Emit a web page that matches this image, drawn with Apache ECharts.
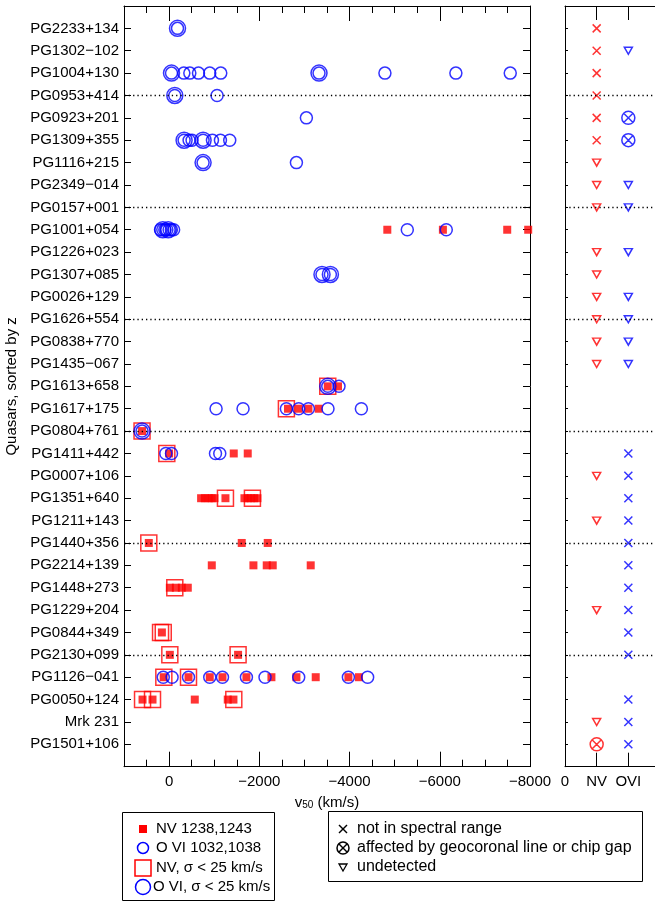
<!DOCTYPE html>
<html>
<head>
<meta charset="utf-8">
<title>v50 of NV and O VI absorbers</title>
<script src="https://cdn.jsdelivr.net/npm/echarts@6/dist/echarts.min.js"></script>
<style>
  html, body { margin: 0; padding: 0; background: #fff; }
  #chart { width: 655px; height: 903px; }
</style>
</head>
<body>
<div id="chart"></div>
<script>
// Quasars, top to bottom, sorted by redshift
const quasars = [
  'PG2233+134', 'PG1302−102', 'PG1004+130', 'PG0953+414', 'PG0923+201',
  'PG1309+355', 'PG1116+215', 'PG2349−014', 'PG0157+001', 'PG1001+054',
  'PG1226+023', 'PG1307+085', 'PG0026+129', 'PG1626+554', 'PG0838+770',
  'PG1435−067', 'PG1613+658', 'PG1617+175', 'PG0804+761', 'PG1411+442',
  'PG0007+106', 'PG1351+640', 'PG1211+143', 'PG1440+356', 'PG2214+139',
  'PG1448+273', 'PG1229+204', 'PG0844+349', 'PG2130+099', 'PG1126−041',
  'PG0050+124', 'Mrk 231', 'PG1501+106'
];

// Rows after which a dotted separator is drawn
const groupBreaks = ['PG0953+414', 'PG0157+001', 'PG1626+554', 'PG0804+761', 'PG1440+356', 'PG2130+099'];

// v50 (km/s) of NV 1238,1243 components
const nvV50 = [
  ['PG1001+054', [-4837, -6069, -7495, -7960]],
  ['PG1613+658', [-3517, -3744]],
  ['PG1617+175', [-2636, -2873, -3088, -3316]],
  ['PG0804+761', [600]],
  ['PG1411+442', [0, -1433, -1743]],
  ['PG1351+640', [-709, -791, -879, -946, -1006, -1249, -1670, -1743, -1810, -1887, -1958]],
  ['PG1440+356', [450, -1610, -2186]],
  ['PG2214+139', [-946, -1869, -2164, -2297, -3139]],
  ['PG1448+273', [-16, -149, -281, -414]],
  ['PG0844+349', [160]],
  ['PG2130+099', [-16, -1529]],
  ['PG1126−041', [120, -430, -901, -1183, -1714, -2268, -2822, -3250, -3974, -4209]],
  ['PG0050+124', [589, 368, -569, -1300, -1426]]
];

// NV components with sigma < 25 km/s
const nvNarrow = [
  ['PG1613+658', [-3517]],
  ['PG1617+175', [-2600]],
  ['PG0804+761', [600]],
  ['PG1411+442', [51]],
  ['PG1351+640', [-1249, -1847]],
  ['PG1440+356', [450]],
  ['PG1448+273', [-126]],
  ['PG0844+349', [190, 130]],
  ['PG2130+099', [-16, -1529]],
  ['PG1126−041', [117, -430]],
  ['PG0050+124', [589, 368, -1434]]
];

// v50 (km/s) of O VI 1032,1038 components
const oviV50 = [
  ['PG2233+134', [-186]],
  ['PG1004+130', [-53, -326, -459, -651, -901, -1145, -3323, -4784, -6357, -7562]],
  ['PG0953+414', [-126, -1063]],
  ['PG0923+201', [-3043]],
  ['PG1309+355', [-332, -443, -509, -753, -961, -1138, -1344]],
  ['PG1116+215', [-753, -2822]],
  ['PG1001+054', [190, 140, 95, 50, 0, -50, -100, -5280, -6144]],
  ['PG1307+085', [-3389, -3575]],
  ['PG1613+658', [-3517, -3766]],
  ['PG1617+175', [-1041, -1639, -2600, -2873, -3088, -3522, -4262]],
  ['PG0804+761', [600]],
  ['PG1411+442', [73, -53, -1028, -1123]],
  ['PG1126−041', [130, -66, -430, -901, -1183, -1714, -2126, -2873, -3974, -4401]]
];

// O VI components with sigma < 25 km/s
const oviNarrow = [
  ['PG2233+134', [-186]],
  ['PG1004+130', [-53, -3323]],
  ['PG0953+414', [-126]],
  ['PG1309+355', [-332, -753]],
  ['PG1116+215', [-753]],
  ['PG1001+054', [140, 20]],
  ['PG1307+085', [-3389, -3575]],
  ['PG1613+658', [-3517]],
  ['PG0804+761', [600]]
];

// Non-detections: x = not in spectral range, g = geocoronal line / chip gap, u = undetected
const nvStatus = [
  ['PG2233+134', 'x'], ['PG1302−102', 'x'], ['PG1004+130', 'x'], ['PG0953+414', 'x'],
  ['PG0923+201', 'x'], ['PG1309+355', 'x'], ['PG1116+215', 'u'], ['PG2349−014', 'u'],
  ['PG0157+001', 'u'], ['PG1226+023', 'u'], ['PG1307+085', 'u'], ['PG0026+129', 'u'],
  ['PG1626+554', 'u'], ['PG0838+770', 'u'], ['PG1435−067', 'u'], ['PG0007+106', 'u'],
  ['PG1211+143', 'u'], ['PG1229+204', 'u'], ['Mrk 231', 'u'], ['PG1501+106', 'g']
];
const oviStatus = [
  ['PG1302−102', 'u'], ['PG0923+201', 'g'], ['PG1309+355', 'g'], ['PG2349−014', 'u'],
  ['PG0157+001', 'u'], ['PG1226+023', 'u'], ['PG0026+129', 'u'], ['PG1626+554', 'u'],
  ['PG0838+770', 'u'], ['PG1435−067', 'u'], ['PG1411+442', 'x'], ['PG0007+106', 'x'],
  ['PG1351+640', 'x'], ['PG1211+143', 'x'], ['PG1440+356', 'x'], ['PG2214+139', 'x'],
  ['PG1448+273', 'x'], ['PG1229+204', 'x'], ['PG0844+349', 'x'], ['PG2130+099', 'x'],
  ['PG0050+124', 'x'], ['Mrk 231', 'x'], ['PG1501+106', 'x']
];

const statusColumns = ['0', 'NV', 'OVI', ''];

const FONT = '"Liberation Sans", Arial, Helvetica, sans-serif';
const RED = '#ff0000';
const BLUE = '#0000ff';
const HOLLOW = 'rgba(0,0,0,0)';

const rowOf = name => quasars.indexOf(name) + 1;
const toPoints = list => list.flatMap(([name, vs]) => vs.map(v => [v, rowOf(name)]));
const fmtVel = v => (v === 1000 ? '' : v < 0 ? '−' + Math.abs(v) : String(v));

const separators = {
  silent: true,
  symbol: ['none', 'none'],
  label: { show: false },
  lineStyle: { color: '#000', type: [1.3, 3], width: 1.3 },
  data: groupBreaks.map(n => ({ yAxis: rowOf(n) }))
};

const blackLine = { color: '#000', width: 1 };

const velAxis = {
  type: 'value', min: -8000, max: 1000, inverse: true, gridIndex: 0,
  splitLine: { show: false },
  axisLine: { onZero: false, lineStyle: blackLine }
};
const rowAxis = {
  type: 'value', min: 0, max: quasars.length + 1, inverse: true, interval: 1,
  splitLine: { show: false },
  axisLine: { onZero: false, lineStyle: blackLine }
};
const colAxis = {
  type: 'value', min: 0, max: 3, interval: 1, gridIndex: 1,
  splitLine: { show: false },
  axisLine: { onZero: false, lineStyle: blackLine },
  axisTick: { inside: true, length: 14, lineStyle: blackLine }
};

const statusSymbol = {
  x: { symbol: 'path://M0,0L10,10M10,0L0,10', size: 8 },
  g: { symbol: 'path://M0,5A5,5,0,1,1,10,5A5,5,0,1,1,0,5ZM1.6,1.6L8.4,8.4M8.4,1.6L1.6,8.4', size: 13 },
  u: { symbol: 'path://M0,0L10,0L5,8.7Z', size: [8, 7] }
};

function statusSeries(code, name) {
  const items = [];
  nvStatus.filter(s => s[1] === code).forEach(([q]) =>
    items.push({ value: [1, rowOf(q)], itemStyle: { borderColor: RED } }));
  oviStatus.filter(s => s[1] === code).forEach(([q]) =>
    items.push({ value: [2, rowOf(q)], itemStyle: { borderColor: BLUE } }));
  return {
    type: 'scatter', name, xAxisIndex: 4, yAxisIndex: 2, silent: true,
    symbol: statusSymbol[code].symbol, symbolSize: statusSymbol[code].size,
    itemStyle: { color: HOLLOW, borderWidth: 1.5 },
    data: items
  };
}

const chart = echarts.init(document.getElementById('chart'), null, { renderer: 'canvas' });

const option = {
  animation: false,
  textStyle: { fontFamily: FONT, color: '#000' },
  grid: [
    { left: 124, top: 6, width: 406, height: 760.7, outerBoundsMode: 'none' },
    { left: 565, top: 6, width: 95, height: 760.7, outerBoundsMode: 'none' }
  ],
  xAxis: [
    Object.assign({}, velAxis, {
      position: 'bottom', interval: 500,
      axisTick: { inside: true, length: 7, lineStyle: blackLine },
      axisLabel: { show: false }
    }),
    Object.assign({}, velAxis, {
      position: 'bottom', interval: 2000,
      axisLine: { show: false, onZero: false },
      axisTick: { inside: true, length: 15, lineStyle: blackLine },
      axisLabel: { fontSize: 15, color: '#000', margin: 8, formatter: fmtVel },
      name: 'v{sub|50} (km/s)', nameLocation: 'middle', nameGap: 16,
      nameTextStyle: {
        fontSize: 15, color: '#000', lineHeight: 16,
        rich: { sub: { fontSize: 10, color: '#000', verticalAlign: 'bottom', lineHeight: 6 } }
      }
    }),
    Object.assign({}, velAxis, {
      position: 'top', interval: 500,
      axisTick: { inside: true, length: 7, lineStyle: blackLine },
      axisLabel: { show: false }
    }),
    Object.assign({}, velAxis, {
      position: 'top', interval: 2000,
      axisLine: { show: false, onZero: false },
      axisTick: { inside: true, length: 15, lineStyle: blackLine },
      axisLabel: { show: false }
    }),
    Object.assign({}, colAxis, {
      position: 'bottom',
      axisLabel: { fontSize: 15, color: '#000', margin: 8, formatter: v => statusColumns[v] }
    }),
    Object.assign({}, colAxis, { position: 'top', axisLabel: { show: false } })
  ],
  yAxis: [
    Object.assign({}, rowAxis, {
      gridIndex: 0, position: 'left',
      axisTick: { inside: true, length: 7, lineStyle: blackLine },
      axisLabel: { fontSize: 15, color: '#000', margin: 5, formatter: v => quasars[v - 1] || '' },
      name: 'Quasars, sorted by z', nameLocation: 'middle', nameRotate: 90, nameGap: 104,
      nameTextStyle: { fontSize: 15, color: '#000' }
    }),
    Object.assign({}, rowAxis, {
      gridIndex: 0, position: 'right',
      axisTick: { inside: true, length: 7, lineStyle: blackLine },
      axisLabel: { show: false }
    }),
    Object.assign({}, rowAxis, {
      gridIndex: 1, position: 'left',
      axisTick: { inside: true, length: 3, lineStyle: blackLine },
      axisLabel: { show: false }
    })
  ],
  series: [
    {
      type: 'scatter', name: 'NV 1238,1243', xAxisIndex: 0, yAxisIndex: 0, silent: true,
      symbol: 'rect', symbolSize: 8, itemStyle: { color: RED },
      data: toPoints(nvV50), markLine: separators
    },
    {
      type: 'scatter', name: 'NV, σ < 25 km/s', xAxisIndex: 0, yAxisIndex: 0, silent: true,
      symbol: 'rect', symbolSize: 16,
      itemStyle: { color: HOLLOW, borderColor: RED, borderWidth: 1.5 },
      data: toPoints(nvNarrow)
    },
    {
      type: 'scatter', name: 'O VI 1032,1038', xAxisIndex: 0, yAxisIndex: 0, silent: true,
      symbol: 'circle', symbolSize: 12,
      itemStyle: { color: HOLLOW, borderColor: BLUE, borderWidth: 1.5 },
      data: toPoints(oviV50)
    },
    {
      type: 'scatter', name: 'O VI, σ < 25 km/s', xAxisIndex: 0, yAxisIndex: 0, silent: true,
      symbol: 'circle', symbolSize: 16,
      itemStyle: { color: HOLLOW, borderColor: BLUE, borderWidth: 1.5 },
      data: toPoints(oviNarrow)
    },
    Object.assign(statusSeries('x', 'not in spectral range'), { markLine: separators }),
    statusSeries('g', 'affected by geocoronal line or chip gap'),
    statusSeries('u', 'undetected')
  ],
  graphic: [
    // key for the measured components
    { type: 'rect', shape: { x: 122.5, y: 812.5, width: 152, height: 88 },
      style: { fill: 'none', stroke: '#000', lineWidth: 1 } },
    { type: 'rect', shape: { x: 139, y: 825, width: 8, height: 8 }, style: { fill: RED } },
    { type: 'circle', shape: { cx: 143, cy: 848, r: 5.5 },
      style: { fill: 'none', stroke: BLUE, lineWidth: 1.5 } },
    { type: 'rect', shape: { x: 135, y: 860, width: 16, height: 16 },
      style: { fill: 'none', stroke: RED, lineWidth: 1.5 } },
    { type: 'circle', shape: { cx: 143, cy: 887, r: 7.5 },
      style: { fill: 'none', stroke: BLUE, lineWidth: 1.5 } },
    { type: 'text', x: 156, y: 829, style: { text: 'NV 1238,1243', font: '15px ' + FONT, fill: '#000', verticalAlign: 'middle' } },
    { type: 'text', x: 156, y: 848, style: { text: 'O VI 1032,1038', font: '15px ' + FONT, fill: '#000', verticalAlign: 'middle' } },
    { type: 'text', x: 156, y: 868, style: { text: 'NV, σ < 25 km/s', font: '15px ' + FONT, fill: '#000', verticalAlign: 'middle' } },
    { type: 'text', x: 153, y: 887, style: { text: 'O VI, σ < 25 km/s', font: '15px ' + FONT, fill: '#000', verticalAlign: 'middle' } },

    // key for the non-detection symbols
    { type: 'rect', shape: { x: 328.5, y: 811.5, width: 314, height: 70 },
      style: { fill: 'none', stroke: '#000', lineWidth: 1 } },
    { type: 'line', shape: { x1: 339, y1: 825, x2: 347, y2: 833 }, style: { stroke: '#000', lineWidth: 1.5 } },
    { type: 'line', shape: { x1: 347, y1: 825, x2: 339, y2: 833 }, style: { stroke: '#000', lineWidth: 1.5 } },
    { type: 'circle', shape: { cx: 343, cy: 848, r: 6 }, style: { fill: 'none', stroke: '#000', lineWidth: 1.5 } },
    { type: 'line', shape: { x1: 339, y1: 844, x2: 347, y2: 852 }, style: { stroke: '#000', lineWidth: 1.5 } },
    { type: 'line', shape: { x1: 347, y1: 844, x2: 339, y2: 852 }, style: { stroke: '#000', lineWidth: 1.5 } },
    { type: 'polygon', shape: { points: [[339, 864], [347, 864], [343, 871]] },
      style: { fill: 'none', stroke: '#000', lineWidth: 1.3 } },
    { type: 'text', x: 357, y: 829, style: { text: 'not in spectral range', font: '16px ' + FONT, fill: '#000', verticalAlign: 'middle' } },
    { type: 'text', x: 357, y: 848, style: { text: 'affected by geocoronal line or chip gap', font: '16px ' + FONT, fill: '#000', verticalAlign: 'middle' } },
    { type: 'text', x: 357, y: 867, style: { text: 'undetected', font: '16px ' + FONT, fill: '#000', verticalAlign: 'middle' } }
  ]
};

chart.setOption(option);
</script>
</body>
</html>
